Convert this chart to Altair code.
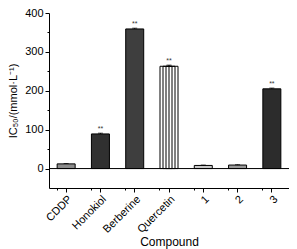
import altair as alt
import pandas as pd

compounds = ["CDDP", "Honokiol", "Berberine", "Quercetin", "1", "2", "3"]
ic50 = [12, 89, 359, 263, 8, 9, 205]
err = [1, 2, 2, 3, 1, 1, 2]
stars = ["", "**", "**", "**", "", "", "**"]
fills = ["#8c8c8c", "#303030", "#3e3e3e", "#ffffff", "#c8c8c8", "#9a9a9a", "#2c2c2c"]
y_ticks = [0, 100, 200, 300, 400]
y_minor = [50, 150, 250, 350]

df = pd.DataFrame({"c": compounds, "v": ic50, "e": err, "s": stars, "f": fills})
df["top"] = df["v"] + df["e"]

FONT = "Liberation Sans"
xsc = alt.Scale(domain=compounds, paddingInner=0.47, paddingOuter=0.235)
ysc = alt.Scale(domain=[-50, 400], nice=False, zero=False)

base = alt.Chart(df)

bars = base.mark_bar(size=18, stroke="black", strokeWidth=1).encode(
    x=alt.X("c:N", scale=xsc, sort=compounds,
            axis=alt.Axis(title="Compound", labelAngle=-45, labelFontSize=11,
                          labelFont=FONT, titleFont=FONT, titleFontSize=12,
                          titleFontWeight="normal", domainColor="black",
                          tickColor="black", tickSize=4, labelColor="black",
                          titleColor="black", labelPadding=1, orient="bottom",
                          titleY=53, titleBaseline="middle")),
    y=alt.Y("v:Q", scale=ysc,
            axis=alt.Axis(title="IC₅₀/(mmol·L⁻¹)", values=y_ticks, labelFontSize=11,
                          labelFont=FONT, titleFont=FONT, titleFontSize=11,
                          titleFontWeight="normal", domainColor="black",
                          tickColor="black", tickSize=4, labelColor="black",
                          titleColor="black", labelPadding=2, grid=False,
                          orient="left", titlePadding=6)),
    y2=alt.datum(0),
    fill=alt.Fill("f:N", scale=None),
)

minor = base.mark_bar(opacity=0).encode(
    x=alt.X("c:N", scale=xsc, sort=compounds,
            axis=alt.Axis(title=None, labels=False, domain=False, tickSize=2,
                          tickColor="black", bandPosition=0, orient="bottom")),
    y=alt.Y("v:Q", scale=ysc,
            axis=alt.Axis(title=None, labels=False, domain=False, tickSize=2,
                          tickColor="black", values=y_minor, grid=False,
                          orient="left")),
)

qdf = base.transform_filter(alt.datum.c == "Quercetin")
stripes = alt.layer(*[
    qdf.mark_bar(size=sz, fill="transparent", stroke="black", strokeWidth=1).encode(
        x=alt.X("c:N", scale=xsc, sort=compounds, axis=None),
        y=alt.Y("v:Q", scale=ysc, axis=None), y2=alt.datum(0))
    for sz in [12, 6]
] + [
    qdf.mark_bar(size=1, fill="black").encode(
        x=alt.X("c:N", scale=xsc, sort=compounds, axis=None),
        y=alt.Y("v:Q", scale=ysc, axis=None), y2=alt.datum(0))
])

errbars = base.mark_rule(color="black", strokeWidth=1).encode(
    x=alt.X("c:N", scale=xsc, sort=compounds, axis=None),
    y=alt.Y("v:Q", scale=ysc, axis=None),
    y2="top:Q",
)
caps = base.mark_tick(color="black", size=5, thickness=1).encode(
    x=alt.X("c:N", scale=xsc, sort=compounds, axis=None),
    y=alt.Y("top:Q", scale=ysc, axis=None),
)

zero = alt.Chart(df).mark_rule(color="black", strokeWidth=1).encode(
    y=alt.Y("z:Q", scale=ysc, axis=None)
).transform_calculate(z="0").transform_filter(alt.datum.c == "CDDP")

labels = base.mark_text(fontSize=7, font=FONT, baseline="bottom", dy=-1,
                        color="#333333").encode(
    x=alt.X("c:N", scale=xsc, sort=compounds, axis=None),
    y=alt.Y("top:Q", scale=ysc, axis=None),
    text="s:N",
)

chart = alt.layer(bars, minor, stripes, zero, errbars, caps, labels).resolve_axis(
    x="independent", y="independent"
).properties(
    width=240, height=175, autosize=alt.AutoSizeParams(type="none"),
    padding={"left": 41, "top": 5, "right": 0, "bottom": 61},
).configure_view(stroke=None)

chart.save("out.html", embed_options={"renderer": "svg", "actions": False})
